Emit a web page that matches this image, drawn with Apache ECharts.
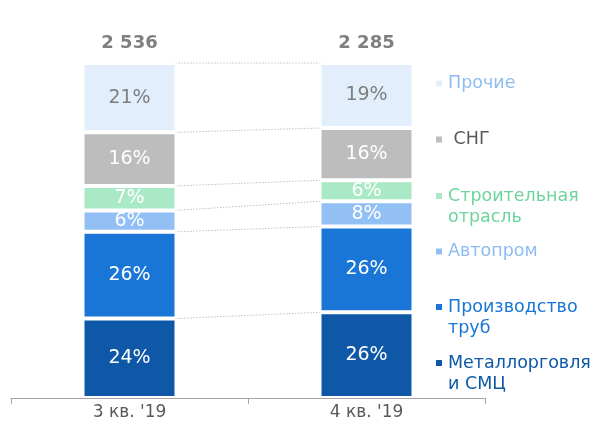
<!DOCTYPE html>
<html>
<head>
<meta charset="utf-8">
<script src="https://cdn.jsdelivr.net/npm/echarts@6/dist/echarts.min.js"></script>
<style>
  * { margin: 0; padding: 0; }
  body { background: #fff; }
  #main { width: 595px; height: 428px; }
</style>
</head>
<body>
<div id="main"></div>
<script>
// данные
var quarters = ['3 кв. \'19', '4 кв. \'19'];
var totals = [2536, 2285];
var metalTrade = [23.7, 25.6];   // Металлорговля и СМЦ
var pipes = [25.9, 25.6];        // Производство труб
var auto = [6.4, 7.5];           // Автопром
var construction = [7.3, 6.3];   // Строительная отрасль
var cis = [16.0, 15.6];          // СНГ
var other = [20.7, 19.4];        // Прочие

var font = 'DejaVu Sans';
var halfBar = 46;

var segs = [
  {name: 'Металлорговля и СМЦ', legend: 'Металлорговля\nи СМЦ', data: metalTrade, color: '#0f58a8', text: '#0f58a8', label: '#fff', top: 363.5},
  {name: 'Производство труб', legend: 'Производство\nтруб', data: pipes, color: '#1976d6', text: '#1976d6', label: '#fff', top: 307.5},
  {name: 'Автопром', legend: 'Автопром', data: auto, color: '#92c0f4', text: '#8dbdf0', label: '#fff', top: 252},
  {name: 'Строительная отрасль', legend: 'Строительная\nотрасль', data: construction, color: '#a9e9c6', text: '#6ed49c', label: '#fff', top: 196.5},
  {name: 'СНГ', legend: ' СНГ', data: cis, color: '#bdbdbd', text: '#595959', label: '#fff', top: 140},
  {name: 'Прочие', legend: 'Прочие', data: other, color: '#e2eefb', text: '#8dbdf0', label: '#7f7f7f', top: 84}
];

// границы сегментов для пунктирных соединений
var links = [];
var c1 = 0, c2 = 0;
segs.forEach(function (s) {
  c1 += s.data[0];
  c2 += s.data[1];
  links.push([0, c1, c2]);
});

var series = segs.map(function (s) {
  return {
    name: s.name,
    type: 'bar',
    stack: 'all',
    barWidth: 94,
    data: s.data,
    itemStyle: {color: s.color, borderColor: '#fff', borderWidth: 2},
    label: {
      show: true,
      fontFamily: font,
      fontSize: 19,
      color: s.label,
      formatter: function (p) { return Math.round(p.value) + '%'; }
    }
  };
});

series.push({
  name: 'total',
  type: 'bar',
  stack: 'all',
  barWidth: 94,
  data: [0, 0],
  itemStyle: {color: 'transparent', borderWidth: 0},
  label: {
    show: true,
    position: 'top',
    distance: 11,
    fontFamily: font,
    fontSize: 18,
    fontWeight: 'bold',
    color: '#7f7f7f',
    formatter: function (p) {
      return String(totals[p.dataIndex]).replace(/\B(?=(\d{3})+(?!\d))/g, ' ');
    }
  }
});

series.push({
  name: 'links',
  type: 'custom',
  data: links,
  silent: true,
  z: 1,
  renderItem: function (params, api) {
    var a = api.coord([0, api.value(1)]);
    var b = api.coord([1, api.value(2)]);
    return {
      type: 'line',
      shape: {x1: a[0] + halfBar, y1: a[1], x2: b[0] - halfBar, y2: b[1]},
      style: {stroke: '#a0a0a0', lineWidth: 1, lineDash: [1, 2]}
    };
  }
});

// двухстрочные подписи: пустая первая строка, чтобы первая строка текста была на уровне значка
var legends = segs.map(function (s) {
  var twoLines = s.legend.indexOf('\n') >= 0;
  return {
    data: [s.name],
    orient: 'vertical',
    left: 434,
    top: twoLines ? s.top - 32 : s.top - 11,
    padding: 0,
    icon: 'rect',
    itemWidth: 8,
    itemHeight: 8,
    itemGap: 4,
    selectedMode: false,
    formatter: function () { return twoLines ? '\n' + s.legend : s.legend; },
    textStyle: {
      fontFamily: font,
      fontSize: 17.5,
      lineHeight: 21,
      color: s.text
    }
  };
});

var chart = echarts.init(document.getElementById('main'));
chart.setOption({
  animation: false,
  grid: {left: 11, right: 110, top: 63, bottom: 30},
  legend: legends,
  xAxis: {
    type: 'category',
    data: quarters,
    axisLine: {lineStyle: {color: '#a6a6a6'}},
    axisTick: {show: true, length: 6, lineStyle: {color: '#a6a6a6'}},
    axisLabel: {fontFamily: font, fontSize: 17, color: '#595959', margin: 6}
  },
  yAxis: {type: 'value', min: 0, max: 100, show: false},
  series: series
});
</script>
</body>
</html>
